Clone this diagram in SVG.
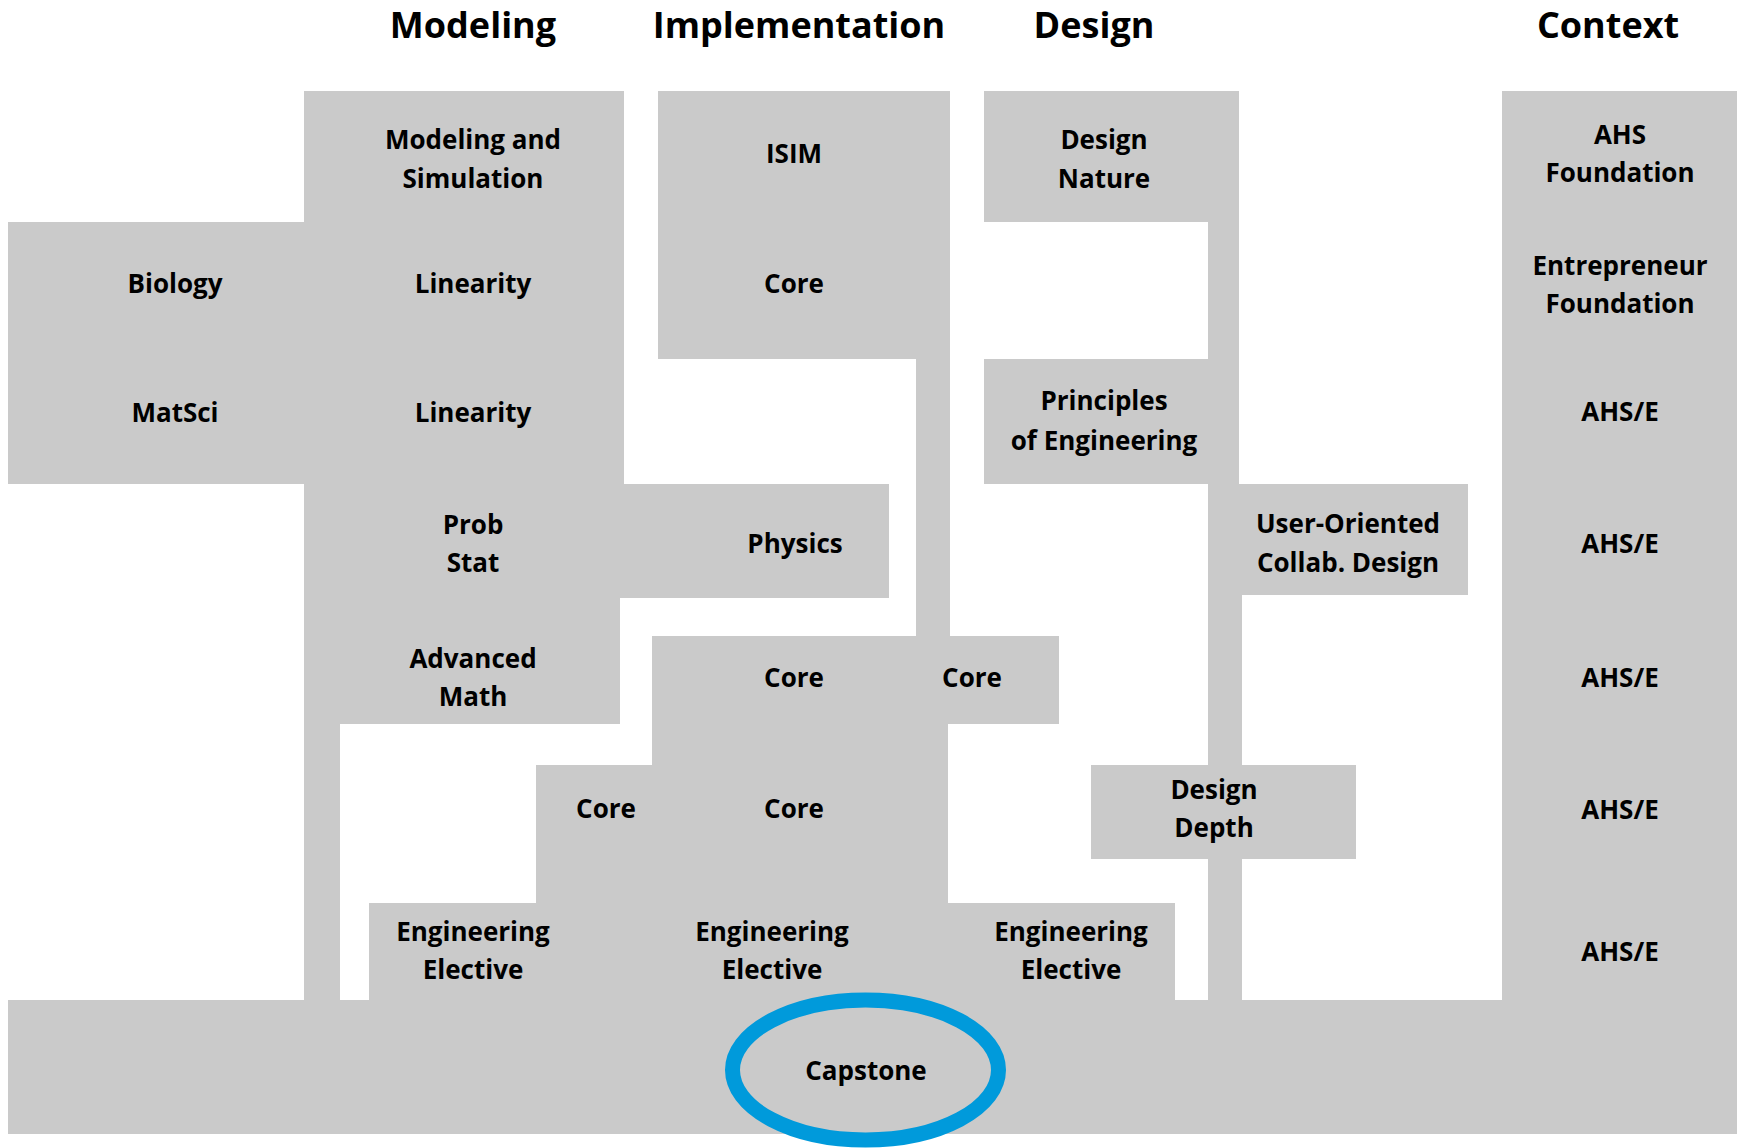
<svg xmlns="http://www.w3.org/2000/svg" width="1743" height="1148" viewBox="0 0 1743 1148">
<style>
.b{fill:#cacaca;stroke:none}
.t{font-family:"Open Sans","Noto Sans","Liberation Sans",sans-serif;font-weight:700;font-size:26px;fill:#000;text-anchor:middle}
.h{font-family:"Open Sans","Noto Sans","Liberation Sans",sans-serif;font-weight:700;font-size:36px;fill:#000;text-anchor:middle}
</style>
<rect width="1743" height="1148" fill="#fff"/>
<g id="titles">
<text class="h" x="473" y="38">Modeling</text>
<text class="h" x="799" y="38">Implementation</text>
<text class="h" x="1094" y="38">Design</text>
<text class="h" x="1608" y="38">Context</text>
</g>
<g id="connectors">
<rect class="b" x="304" y="724" width="36" height="277"/>
<rect class="b" x="916" y="359" width="34" height="278"/>
<rect class="b" x="1208" y="222" width="31" height="138"/>
<rect class="b" x="1208" y="595" width="34" height="171"/>
<rect class="b" x="1208" y="859" width="34" height="142"/>
</g>
<g id="modsim">
<rect class="b" x="304" y="91" width="320" height="131"/>
<text class="t" x="473" y="149">Modeling and</text>
<text class="t" x="473" y="188">Simulation</text>
</g>
<g id="biology">
<rect class="b" x="8" y="222" width="296" height="131"/>
<text class="t" x="175" y="293">Biology</text>
</g>
<g id="linearity1">
<rect class="b" x="304" y="222" width="320" height="131"/>
<text class="t" x="473" y="293">Linearity</text>
</g>
<g id="matsci">
<rect class="b" x="8" y="353" width="296" height="131"/>
<text class="t" x="175" y="422">MatSci</text>
</g>
<g id="linearity2">
<rect class="b" x="304" y="353" width="320" height="131"/>
<text class="t" x="473" y="422">Linearity</text>
</g>
<g id="probstat">
<rect class="b" x="304" y="484" width="320" height="114"/>
<text class="t" x="473" y="534">Prob</text>
<text class="t" x="473" y="572">Stat</text>
</g>
<g id="physics">
<rect class="b" x="624" y="484" width="265" height="114"/>
<text class="t" x="795" y="553">Physics</text>
</g>
<g id="advmath">
<rect class="b" x="304" y="598" width="316" height="126"/>
<text class="t" x="473" y="668">Advanced</text>
<text class="t" x="473" y="706">Math</text>
</g>
<g id="isim">
<rect class="b" x="658" y="91" width="292" height="131"/>
<text class="t" x="794" y="163">ISIM</text>
</g>
<g id="core1">
<rect class="b" x="658" y="222" width="292" height="137"/>
<text class="t" x="794" y="293">Core</text>
</g>
<g id="core2a">
<rect class="b" x="652" y="636" width="264" height="88"/>
<text class="t" x="794" y="687">Core</text>
</g>
<g id="core2b">
<rect class="b" x="916" y="636" width="143" height="88"/>
<text class="t" x="972" y="687">Core</text>
</g>
<g id="core3a">
<rect class="b" x="536" y="765" width="116" height="138"/>
<text class="t" x="606" y="818">Core</text>
</g>
<g id="core3b">
<rect class="b" x="652" y="724" width="296" height="179"/>
<text class="t" x="794" y="818">Core</text>
</g>
<g id="elective2">
<rect class="b" x="536" y="903" width="412" height="98"/>
<text class="t" x="772" y="941">Engineering</text>
<text class="t" x="772" y="979">Elective</text>
</g>
<g id="elective1">
<rect class="b" x="369" y="903" width="167" height="98"/>
<text class="t" x="473" y="941">Engineering</text>
<text class="t" x="473" y="979">Elective</text>
</g>
<g id="elective3">
<rect class="b" x="948" y="903" width="227" height="98"/>
<text class="t" x="1071" y="941">Engineering</text>
<text class="t" x="1071" y="979">Elective</text>
</g>
<g id="designnature">
<rect class="b" x="984" y="91" width="255" height="131"/>
<text class="t" x="1104" y="149">Design</text>
<text class="t" x="1104" y="188">Nature</text>
</g>
<g id="principles">
<rect class="b" x="984" y="359" width="255" height="125"/>
<text class="t" x="1104" y="410">Principles</text>
<text class="t" x="1104" y="450">of Engineering</text>
</g>
<g id="userorient">
<rect class="b" x="1208" y="484" width="260" height="111"/>
<text class="t" x="1348" y="533">User-Oriented</text>
<text class="t" x="1348" y="572">Collab. Design</text>
</g>
<g id="designdepth">
<rect class="b" x="1091" y="765" width="265" height="94"/>
<text class="t" x="1214" y="799">Design</text>
<text class="t" x="1214" y="837">Depth</text>
</g>
<g id="ahsfound">
<rect class="b" x="1502" y="91" width="235" height="131"/>
<text class="t" x="1620" y="144">AHS</text>
<text class="t" x="1620" y="182">Foundation</text>
</g>
<g id="entfound">
<rect class="b" x="1502" y="222" width="235" height="137"/>
<text class="t" x="1620" y="275">Entrepreneur</text>
<text class="t" x="1620" y="313">Foundation</text>
</g>
<g id="ahse1">
<rect class="b" x="1502" y="359" width="235" height="125"/>
<text class="t" x="1620" y="421">AHS/E</text>
</g>
<g id="ahse2">
<rect class="b" x="1502" y="484" width="235" height="136"/>
<text class="t" x="1620" y="553">AHS/E</text>
</g>
<g id="ahse3">
<rect class="b" x="1502" y="620" width="235" height="145"/>
<text class="t" x="1620" y="687">AHS/E</text>
</g>
<g id="ahse4">
<rect class="b" x="1502" y="765" width="235" height="138"/>
<text class="t" x="1620" y="819">AHS/E</text>
</g>
<g id="ahse5">
<rect class="b" x="1502" y="903" width="235" height="98"/>
<text class="t" x="1620" y="961">AHS/E</text>
</g>
<g id="capstone">
<rect class="b" x="8" y="1000" width="1729" height="134"/>
<ellipse cx="865.5" cy="1070" rx="133" ry="70" fill="none" stroke="#009ADB" stroke-width="15"/>
<text class="t" x="866" y="1080">Capstone</text>
</g>
</svg>
